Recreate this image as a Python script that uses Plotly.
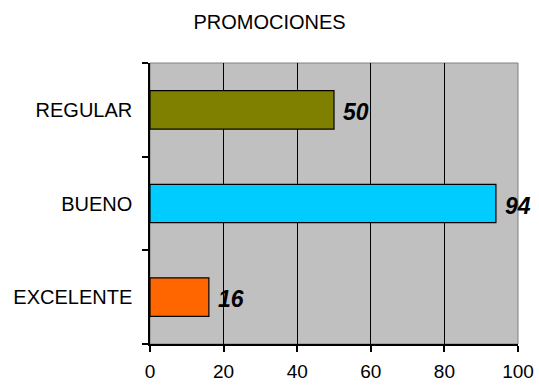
import plotly.graph_objects as go

# Promotion ratings
categorias = ["EXCELENTE", "BUENO", "REGULAR"]
valores = [16, 94, 50]
colores = ["#FF6600", "#00CCFF", "#808000"]
ticks_x = [0, 20, 40, 60, 80, 100]

FONT = "Liberation Sans, Arial, sans-serif"

fig = go.Figure()
fig.add_trace(go.Bar(
    y=categorias,
    x=valores,
    orientation="h",
    width=0.41,
    marker=dict(color=colores, line=dict(color="black", width=1.2)),
    hoverinfo="skip",
))

# value labels to the right of each bar
for cat, val in zip(categorias, valores):
    fig.add_annotation(
        x=val, y=cat, xref="x", yref="y",
        text=f"<b><i>{val}</i></b>",
        showarrow=False, xanchor="left", yanchor="middle",
        xshift=7, yshift=-2,
        font=dict(family=FONT, size=23, color="black"),
    )

# plot frame (top and right edges)
fig.add_shape(type="rect", xref="paper", yref="paper", x0=0, y0=0, x1=1, y1=1,
              line=dict(color="#808080", width=1), layer="below")

fig.update_layout(
    width=539, height=385,
    margin=dict(l=150, r=21, t=63, b=41, autoexpand=False),
    paper_bgcolor="white",
    plot_bgcolor="#C0C0C0",
    showlegend=False,
    bargap=0.59,
    title=dict(text="PROMOCIONES", x=0.5, xanchor="center", y=1 - 22 / 385, yanchor="middle",
               font=dict(family=FONT, size=20, color="black")),
    font=dict(family=FONT, color="black"),
    xaxis=dict(
        range=[0, 100], tickvals=ticks_x, ticktext=[str(t) for t in ticks_x],
        showgrid=True, gridcolor="black", gridwidth=1,
        showline=True, linecolor="black", linewidth=1.5,
        ticks="outside", ticklen=6, tickcolor="black", tickwidth=1.5,
        ticklabelstandoff=3,
        tickfont=dict(family=FONT, size=19, color="black"),
        zeroline=False, fixedrange=True, automargin=False,
    ),
    yaxis=dict(
        categoryorder="array", categoryarray=categorias,
        range=[-0.5, 2.5],
        showgrid=False,
        showline=True, linecolor="black", linewidth=1.5,
        ticks="outside", tickson="boundaries", ticklen=6, tickcolor="black", tickwidth=1.5,
        ticklabelstandoff=12,
        tickfont=dict(family=FONT, size=20, color="black"),
        zeroline=False, fixedrange=True, automargin=False,
    ),
)

fig.write_html("out.html")
